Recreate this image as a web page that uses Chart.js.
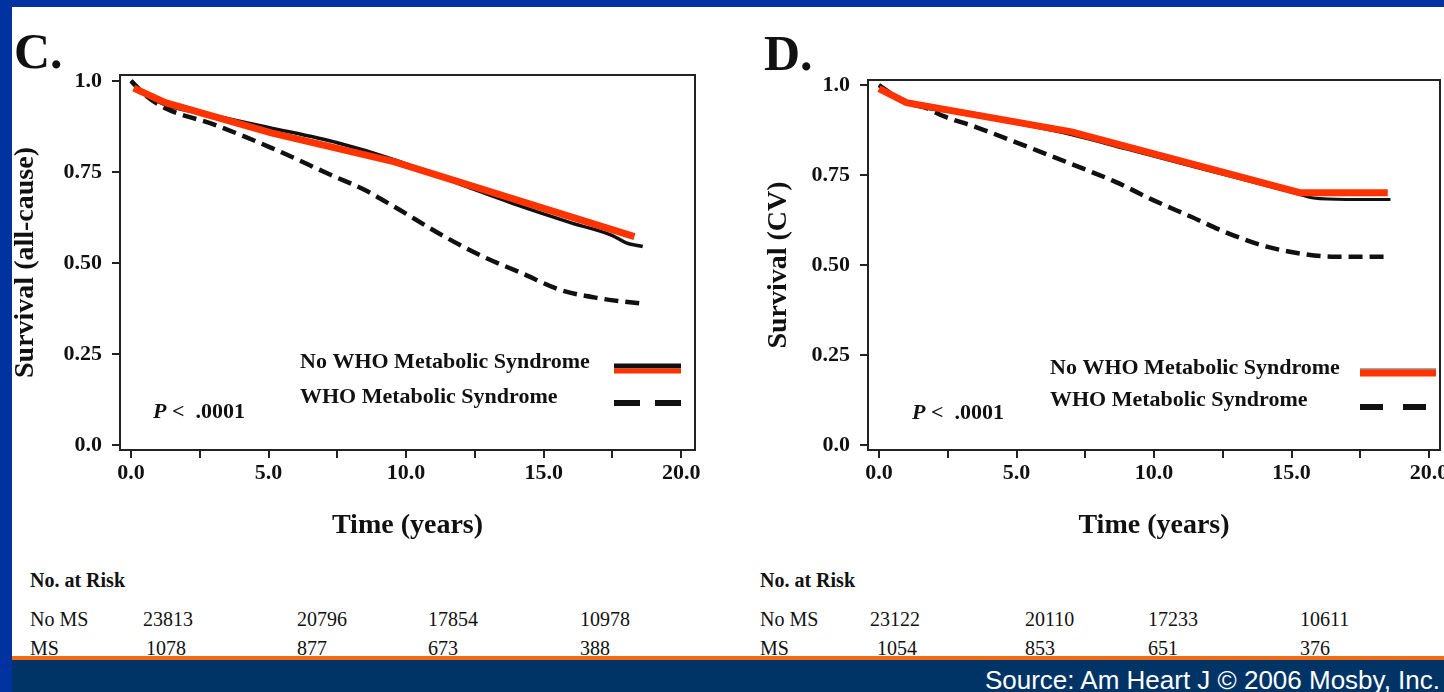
<!DOCTYPE html>
<html>
<head>
<meta charset="utf-8">
<script src="https://cdn.jsdelivr.net/npm/chart.js@4.4.1/dist/chart.umd.min.js"></script>
<style>
html, body { margin: 0; padding: 0; }
body { width: 1444px; height: 692px; background: #0033a0; position: relative; overflow: hidden;
       font-family: "Liberation Serif", "Times New Roman", serif; color: #111; }
#panel { position: absolute; left: 12px; top: 7px; width: 1432px; height: 649px; background: #fff; }
#rule { position: absolute; left: 12px; top: 656px; width: 1432px; height: 4px; background: #f26b11; z-index: 3; }
#foot { position: absolute; left: 12px; top: 660px; width: 1432px; height: 32px; background: #003466; z-index: 3; }
#src { position: absolute; right: 4px; top: 667px; z-index: 4; color: #fff;
       font: 26px "Liberation Sans", Arial, sans-serif; line-height: 1; white-space: nowrap; }
canvas { position: absolute; top: 0; z-index: 1; }
.t { position: absolute; white-space: nowrap; line-height: 1; z-index: 2; font-size: 20px; }
.b { font-weight: bold; }
.lab { position: absolute; font-weight: bold; font-size: 50px; line-height: 1; z-index: 2; }
</style>
</head>
<body>
<div id="panel"></div>
<div class="lab" style="left:14px;top:26px">C.</div>
<div class="lab" style="left:764px;top:28px">D.</div>
<canvas id="chC" width="720" height="560" style="left:0"></canvas>
<canvas id="chD" width="722" height="560" style="left:722px"></canvas>
<div id="risk"></div>
<div id="rule"></div>
<div id="foot"></div>
<div id="src">Source: Am Heart J © 2006 Mosby, Inc.</div>
<script>
// ---- data ----
const seriesNames = ['No WHO Metabolic Syndrome', 'WHO Metabolic Syndrome'];
const riskRows = ['No MS', 'MS'];
const xTickVals = [0, 2.5, 5, 7.5, 10, 12.5, 15, 17.5, 20];
const xTickLabels = ['0.0', '', '5.0', '', '10.0', '', '15.0', '', '20.0'];
const yTickVals = [0, 0.25, 0.5, 0.75, 1.0];
const yTickLabels = ['0.0', '0.25', '0.50', '0.75', '1.0'];

// C. all-cause survival
const cNoMsT = [0, 0.5, 1.2, 3, 5, 7.5, 9.5, 12, 14, 16, 17.5, 18, 18.6];
const cNoMsS = [1.0, 0.965, 0.935, 0.905, 0.872, 0.83, 0.785, 0.715, 0.66, 0.61, 0.575, 0.555, 0.545];
const cHiT   = [0.1, 1.25, 5.1, 9.55, 18.3];          // red highlight drawn over No MS
const cHiS   = [0.98, 0.94, 0.857, 0.778, 0.572];
const cMsT   = [0, 0.5, 1.25, 3.05, 5.1, 7.25, 8.5, 9.55, 11.4, 12.8, 14.2, 15.6, 17.0, 18.7];
const cMsS   = [1.0, 0.962, 0.925, 0.879, 0.816, 0.742, 0.70, 0.655, 0.572, 0.517, 0.472, 0.426, 0.403, 0.387];
const cRiskNoMs = [23813, 20796, 17854, 10978];
const cRiskMs   = [1078, 877, 673, 388];

// D. cardiovascular survival
const dNoMsT = [0, 1, 3, 5, 7, 9, 11, 13, 15, 15.8, 17, 18.6];
const dNoMsS = [1.0, 0.95, 0.922, 0.893, 0.862, 0.822, 0.782, 0.742, 0.702, 0.686, 0.682, 0.682];
const dHiT   = [0, 1.0, 7.0, 15.3, 18.5];
const dHiS   = [0.99, 0.951, 0.870, 0.701, 0.701];
const dMsT   = [0, 1.0, 1.45, 2.4, 3.5, 5.55, 6.95, 8.6, 9.95, 11.35, 12.7, 14.1, 15.5, 16.6, 18.6];
const dMsS   = [1.0, 0.95, 0.944, 0.912, 0.884, 0.824, 0.782, 0.731, 0.681, 0.634, 0.588, 0.551, 0.53, 0.523, 0.523];
const dRiskNoMs = [23122, 20110, 17233, 10611];
const dRiskMs   = [1054, 853, 651, 376];

const RED = '#ff3300', INK = '#111', LINE = '#222';
const TICK_FONT  = { family: '"Liberation Serif", serif', size: 22, weight: 'bold' };
const TITLE_FONT = { family: '"Liberation Serif", serif', size: 28, weight: 'bold' };
const pts = (t, s) => t.map((x, i) => ({ x, y: s[i] }));

// frame round the plot + the in-plot key and P value
const boxAndKey = {
  id: 'boxAndKey',
  afterDraw(chart, args, o) {
    const { ctx, chartArea: a } = chart;
    ctx.save();
    ctx.strokeStyle = LINE; ctx.lineWidth = 2;
    ctx.strokeRect(a.left, a.top, a.right - a.left, a.bottom - a.top);
    ctx.fillStyle = INK; ctx.textBaseline = 'middle';
    ctx.font = 'bold 22px "Liberation Serif"';
    o.rows.forEach((r, i) => {
      ctx.fillText(seriesNames[i], o.tx, r.y);
      r.marks.forEach(m => {
        ctx.beginPath();
        ctx.strokeStyle = m.color; ctx.lineWidth = m.w;
        ctx.setLineDash(m.dash || []);
        ctx.moveTo(o.sx0, r.y + m.dy); ctx.lineTo(o.sx1, r.y + m.dy);
        ctx.stroke();
      });
    });
    ctx.setLineDash([]);
    ctx.font = 'italic bold 22px "Liberation Serif"';
    ctx.fillText('P', o.px, o.py);
    const w = ctx.measureText('P').width;
    ctx.font = 'bold 22px "Liberation Serif"';
    ctx.fillText(' <  .0001', o.px + w, o.py);
    ctx.restore();
  }
};

function survChart(id, o) {
  return new Chart(document.getElementById(id), {
    type: 'line',
    data: {
      datasets: [
        { label: seriesNames[0], data: pts(o.hiT, o.hiS), borderColor: RED, borderWidth: 7, order: 0, tension: 0 },
        { label: seriesNames[0], data: pts(o.noT, o.noS), borderColor: INK, borderWidth: o.solidW, order: 1, cubicInterpolationMode: 'monotone' },
        { label: seriesNames[1], data: pts(o.msT, o.msS), borderColor: INK, borderWidth: 4.5, borderDash: [14, 7], order: 2, cubicInterpolationMode: 'monotone' },
      ]
    },
    options: {
      responsive: false, animation: false, events: [],
      layout: { padding: o.pad },
      elements: { point: { radius: 0 } },
      plugins: { legend: { display: false }, tooltip: { enabled: false }, boxAndKey: o.key },
      scales: {
        x: {
          type: 'linear', min: o.xMin, max: o.xMax,
          afterBuildTicks: s => { s.ticks = xTickVals.map(v => ({ value: v })); },
          afterFit: s => { s.height = 110; s.paddingLeft = 0; s.paddingRight = 0; },
          ticks: { callback: (v, i) => xTickLabels[i], autoSkip: false, maxRotation: 0, padding: 2, color: INK, font: TICK_FONT },
          grid: { drawOnChartArea: false, tickLength: 8, color: LINE, lineWidth: 2 },
          border: { color: LINE, width: 2 },
          title: { display: true, text: 'Time (years)', color: INK, font: TITLE_FONT, padding: { top: 0, bottom: 17 } }
        },
        y: {
          type: 'linear', min: -0.014, max: o.yMax,
          afterBuildTicks: s => { s.ticks = yTickVals.map(v => ({ value: v })); },
          afterFit: s => { s.width = o.yW; s.paddingTop = 0; s.paddingBottom = 0; },
          ticks: { callback: (v, i) => yTickLabels[i], padding: 10, color: INK, font: TICK_FONT },
          grid: { drawOnChartArea: false, tickLength: 8, color: LINE, lineWidth: 2 },
          border: { color: LINE, width: 2 },
          title: { display: true, text: o.yTitle, color: INK, font: TITLE_FONT, padding: { top: o.yTitlePad, bottom: 0 } }
        }
      }
    },
    plugins: [boxAndKey]
  });
}

survChart('chC', {
  noT: cNoMsT, noS: cNoMsS, hiT: cHiT, hiS: cHiS, msT: cMsT, msS: cMsS, solidW: 3.5,
  xMin: -0.4, xMax: 20.5, yMax: 1.016, yW: 120, yTitle: 'Survival (all-cause)', yTitlePad: 9,
  pad: { left: 0, right: 25, top: 75, bottom: 0 },
  key: {
    tx: 300, sx0: 614, sx1: 681, px: 153, py: 412,
    rows: [
      { y: 362, marks: [{ color: INK, w: 5, dy: 4 }, { color: RED, w: 5, dy: 9 }] },
      { y: 397, marks: [{ color: INK, w: 6, dy: 6, dash: [26, 15] }] }
    ]
  }
});

survChart('chD', {
  noT: dNoMsT, noS: dNoMsS, hiT: dHiT, hiS: dHiS, msT: dMsT, msS: dMsS, solidW: 3,
  xMin: -0.4, xMax: 20.4, yMax: 1.014, yW: 146, yTitle: 'Survival (CV)', yTitlePad: 40,
  pad: { left: 0, right: 4, top: 80, bottom: 0 },
  key: {
    tx: 328, sx0: 638, sx1: 714, px: 190, py: 413,
    rows: [
      { y: 368, marks: [{ color: '#888', w: 1.5, dy: 1 }, { color: RED, w: 7, dy: 5 }] },
      { y: 400, marks: [{ color: INK, w: 6, dy: 7, dash: [23, 20] }] }
    ]
  }
});

// number-at-risk tables under each panel
const risk = document.getElementById('risk');
function put(text, x, cy, cls) {
  const d = document.createElement('div');
  d.className = 't' + (cls ? ' ' + cls : '');
  d.textContent = text;
  d.style.left = x + 'px';
  d.style.top = (cy - 10) + 'px';
  risk.append(d);
}
function riskTable(x0, cols1, cols2, noMs, ms) {
  put('No. at Risk', x0, 580, 'b');
  put(riskRows[0], x0, 619);
  put(riskRows[1], x0, 648);
  noMs.forEach((v, i) => put(String(v), cols1[i], 619));
  ms.forEach((v, i) => put(String(v), cols2[i], 648));
}
riskTable(30, [143, 297, 428, 580], [146, 297, 428, 580], cRiskNoMs, cRiskMs);
riskTable(760, [870, 1025, 1148, 1300], [877, 1025, 1148, 1300], dRiskNoMs, dRiskMs);
</script>
</body>
</html>
